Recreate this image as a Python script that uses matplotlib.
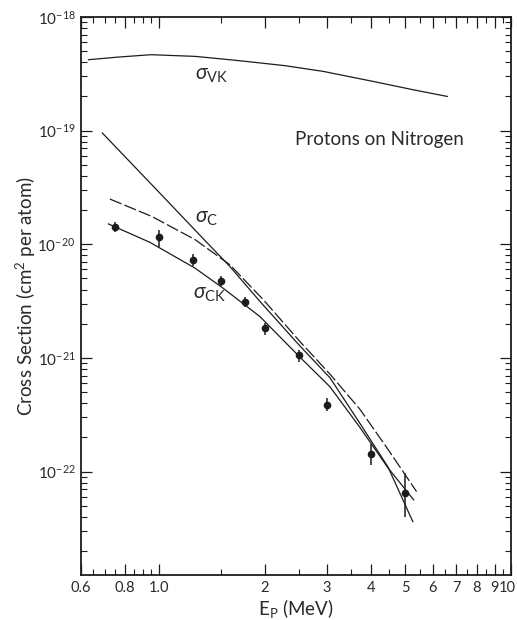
import numpy as np
import matplotlib
matplotlib.use('Agg')
import matplotlib.pyplot as plt
from matplotlib.ticker import FixedLocator, LogLocator, LogFormatterMathtext, NullFormatter
from matplotlib.transforms import ScaledTranslation

plt.rcParams['font.family'] = ['Lato', 'DejaVu Sans']
plt.rcParams['mathtext.fontset'] = 'custom'
plt.rcParams['mathtext.rm'] = 'Lato'
plt.rcParams['mathtext.it'] = 'Lato:italic'
plt.rcParams['mathtext.bf'] = 'Lato:bold'

# Datos medidos (E en MeV, seccion eficaz en cm^2)
E_dat = [0.75, 1.0, 1.25, 1.5, 1.75, 2.0, 2.5, 3.0, 4.0, 5.0]
sig_dat = [1.42e-20, 1.15e-20, 7.26e-21, 4.78e-21, 3.13e-21, 1.83e-21, 1.06e-21, 3.86e-22, 1.42e-22, 6.46e-23]
sig_hi = [1.57e-20, 1.34e-20, 8.20e-21, 5.28e-21, 3.43e-21, 2.02e-21, 1.18e-21, 4.43e-22, 1.75e-22, 9.8e-23]
sig_lo = [1.28e-20, 9.44e-21, 6.38e-21, 4.26e-21, 2.80e-21, 1.60e-21, 9.29e-22, 3.42e-22, 1.15e-22, 4.02e-23]

# sigma_VK
E_vk = [0.63, 0.766, 0.95, 1.27, 1.70, 2.28, 2.93, 4.06, 5.27, 6.59]
sig_vk = [4.21e-19, 4.44e-19, 4.66e-19, 4.50e-19, 4.12e-19, 3.73e-19, 3.32e-19, 2.71e-19, 2.29e-19, 2.0e-19]

# sigma_C (linea solida)
E_c = [0.69, 0.985, 1.35, 1.59, 1.935, 2.51, 3.06, 3.72, 4.47, 5.26]
sig_c = [9.53e-20, 3.01e-20, 1.08e-20, 6.37e-21, 3.14e-21, 1.28e-21, 6.68e-22, 2.66e-22, 1.10e-22, 3.63e-23]

# linea punteada
E_b = [0.725, 0.953, 1.265, 1.59, 1.98, 2.51, 3.06, 3.72, 4.47, 5.39]
sig_b = [2.50e-20, 1.76e-20, 1.10e-20, 6.6e-21, 3.24e-21, 1.40e-21, 7.19e-22, 3.54e-22, 1.57e-22, 6.67e-23]

# sigma_CK
E_ck = [0.718, 0.942, 1.265, 1.52, 1.935, 2.51, 3.06, 3.72, 4.47, 5.29]
sig_ck = [1.51e-20, 1.04e-20, 6.17e-21, 4.11e-21, 2.31e-21, 1.02e-21, 5.57e-22, 2.45e-22, 1.08e-22, 5.64e-23]

# Ejes
x_major = [0.6, 0.8, 1.0, 2, 3, 4, 5, 6, 7, 8, 9, 10]
x_labels = ['0.6', '0.8', '1.0', '2', '3', '4', '5', '6', '7', '8', '9', '10']
x_minor = [0.65, 0.7, 0.75, 0.85, 0.9, 0.95, 1.5, 2.5, 3.5, 4.5, 5.5, 6.5, 7.5, 8.5, 9.5]

col = '#1c1c1c'
tcol = '#2a2a2a'

fig = plt.figure(figsize=(5.17, 6.2), dpi=100)
ax = fig.add_axes([81 / 517, 1 - 575 / 620, 430 / 517, 558 / 620])

ax.plot(E_vk, sig_vk, color=col, lw=0.9)
ax.plot(E_c, sig_c, color=col, lw=0.9)
ax.plot(E_b, sig_b, color=col, lw=0.9, dashes=(10, 2.5))
ax.plot(E_ck, sig_ck, color=col, lw=0.9)

yerr = [np.array(sig_dat) - np.array(sig_lo), np.array(sig_hi) - np.array(sig_dat)]
ax.errorbar(E_dat, sig_dat, yerr=yerr, fmt='o', color=col, ms=4.5, elinewidth=1.1, capsize=0)

ax.set_xscale('log')
ax.set_yscale('log')
ax.set_xlim(0.6, 10)
ax.set_ylim(1.23e-23, 1e-18)

ax.xaxis.set_major_locator(FixedLocator(x_major))
ax.xaxis.set_minor_locator(FixedLocator(x_minor))
ax.set_xticklabels(x_labels)
ax.xaxis.set_minor_formatter(NullFormatter())

ax.yaxis.set_major_locator(FixedLocator([1e-22, 1e-21, 1e-20, 1e-19, 1e-18]))
ax.yaxis.set_minor_locator(LogLocator(base=10, subs=np.arange(2, 10)))
ax.yaxis.set_major_formatter(LogFormatterMathtext())
ax.yaxis.set_minor_formatter(NullFormatter())

ax.tick_params(which='both', direction='in', top=True, right=True, colors=col, labelcolor=tcol)
ax.tick_params(which='major', length=8, width=0.9, labelsize=11, pad=4)
ax.tick_params(axis='x', which='major', labelsize=10.5)
ax.tick_params(which='minor', length=4.5, width=0.8)
for s in ax.spines.values():
    s.set_linewidth(1.3)
    s.set_color(col)

# el "10" del final queda pegado al borde
lab10 = ax.get_xticklabels()[-1]
lab10.set_transform(lab10.get_transform() + ScaledTranslation(-2.5 / 72, 0, fig.dpi_scale_trans))

ax.set_ylabel('Cross Section (cm$^2$ per atom)', fontsize=13.5, color=tcol)
ax.yaxis.set_label_coords(-0.10, 0.5)
ax.set_xlabel('E$_\\mathrm{P}$ (MeV)', fontsize=13.5, color=tcol)
ax.xaxis.set_label_coords(0.5, -0.04)

# Etiquetas de curvas
ax.text(1.265, 3.1e-19, r'$\sigma_{\mathrm{VK}}$', fontsize=15, color=tcol, va='center')
ax.text(1.265, 1.71e-20, r'$\sigma_{\mathrm{C}}$', fontsize=15, color=tcol, va='center')
ax.text(1.25, 3.66e-21, r'$\sigma_{\mathrm{CK}}$', fontsize=15, color=tcol, va='center')
ax.text(0.498, 0.78, 'Protons on Nitrogen', transform=ax.transAxes, fontsize=13.5,
        color=tcol, va='center')

fig.savefig('out.png', dpi=100)
